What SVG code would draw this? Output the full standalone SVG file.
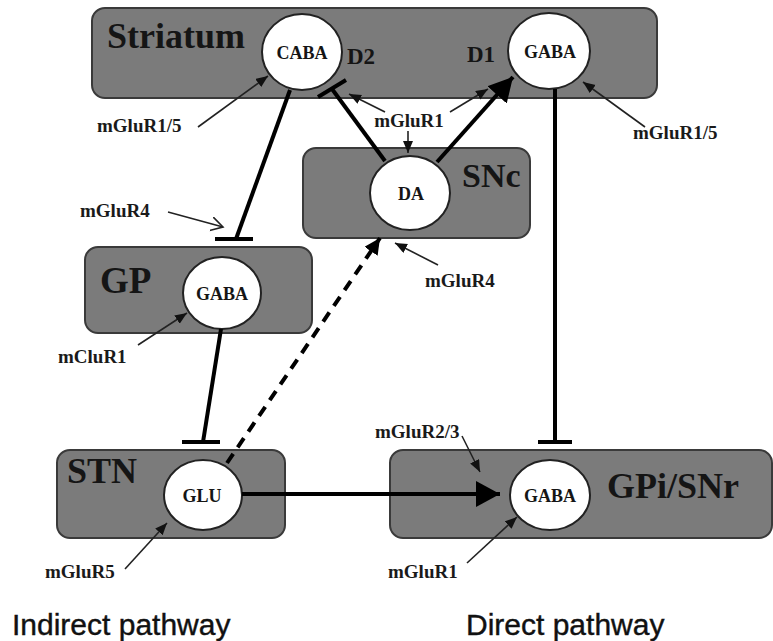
<svg xmlns="http://www.w3.org/2000/svg" width="773" height="641" viewBox="0 0 773 641">
<style>
.box{fill:#7b7b7b;stroke:#3a3a3a;stroke-width:2}
.cell{fill:#fff;stroke:#222;stroke-width:2}
.big{font-family:"Liberation Serif",serif;font-weight:bold;fill:#151515}
.nt{font-family:"Liberation Serif",serif;font-weight:bold;font-size:18px;fill:#151515;text-anchor:middle}
.lab{font-family:"Liberation Serif",serif;font-weight:bold;font-size:19px;fill:#1a1a1a}
.path{font-family:"Liberation Sans",Arial,sans-serif;font-size:30px;fill:#111;stroke:#111;stroke-width:0.4}
.main{stroke:#000;stroke-width:4;fill:none}
.thin{stroke:#222;stroke-width:1.6;fill:none}
</style>
<defs>
<marker id="sh" markerUnits="userSpaceOnUse" markerWidth="14" markerHeight="12" refX="12" refY="5" orient="auto">
<path d="M0,0 L12,5 L0,10 Z" fill="#111"/>
</marker>
<marker id="op" markerUnits="userSpaceOnUse" markerWidth="16" markerHeight="16" refX="12" refY="7" orient="auto">
<path d="M0,0 L12,7 L0,14" fill="none" stroke="#222" stroke-width="1.6"/>
</marker>
<marker id="bh" markerUnits="userSpaceOnUse" markerWidth="26" markerHeight="28" refX="24" refY="13" orient="auto">
<path d="M0,0 L24,13 L0,26 Z" fill="#000"/>
</marker>
<marker id="mh" markerUnits="userSpaceOnUse" markerWidth="20" markerHeight="20" refX="16" refY="8" orient="auto">
<path d="M0,0 L16,8 L0,16 Z" fill="#000"/>
</marker>
</defs>

<g id="striatum">
<rect class="box" x="92" y="8" width="565" height="90" rx="13"/>
<text class="big" x="107" y="48" font-size="36">Striatum</text>
<text class="big" x="347" y="64" font-size="23">D2</text>
<text class="big" x="467" y="62" font-size="23">D1</text>
</g>
<g id="striatum-d2">
<ellipse class="cell" cx="302" cy="52" rx="40" ry="38"/>
<text class="nt" x="302" y="59">CABA</text>
</g>
<g id="striatum-d1">
<ellipse class="cell" cx="549" cy="51" rx="41" ry="38"/>
<text class="nt" x="550" y="58">GABA</text>
</g>

<g id="snc">
<rect class="box" x="303" y="148" width="227" height="90" rx="13"/>
<text class="big" x="462" y="187" font-size="34">SNc</text>
<ellipse class="cell" cx="410" cy="193" rx="40" ry="37"/>
<text class="nt" x="411" y="200">DA</text>
</g>

<g id="gp">
<rect class="box" x="85" y="247" width="227" height="86" rx="13"/>
<text class="big" x="100" y="293" font-size="37">GP</text>
<ellipse class="cell" cx="222" cy="293" rx="39" ry="36"/>
<text class="nt" x="222" y="300">GABA</text>
</g>

<g id="stn">
<rect class="box" x="57" y="450" width="228" height="88" rx="13"/>
<text class="big" x="67" y="483" font-size="36">STN</text>
<ellipse class="cell" cx="203" cy="495" rx="39" ry="35"/>
<text class="nt" x="202" y="502">GLU</text>
</g>

<g id="gpi-snr">
<rect class="box" x="390" y="450" width="382" height="88" rx="13"/>
<text class="big" x="607" y="498" font-size="36">GPi/SNr</text>
<ellipse class="cell" cx="550" cy="495" rx="40" ry="35"/>
<text class="nt" x="550" y="502">GABA</text>
</g>

<g id="connectors">
<line class="main" x1="290" y1="90" x2="236" y2="239"/>
<line class="main" x1="215" y1="239" x2="253" y2="239"/>
<line class="main" x1="385" y1="161" x2="332" y2="89"/>
<line class="main" x1="318" y1="97" x2="346" y2="80"/>
<line class="main" x1="437" y1="162" x2="513" y2="77" marker-end="url(#bh)"/>
<line class="main" stroke-width="3" x1="555" y1="89" x2="555" y2="442"/>
<line class="main" x1="538" y1="442" x2="572" y2="442"/>
<line class="main" x1="221" y1="329" x2="203" y2="442"/>
<line class="main" x1="182" y1="442" x2="220" y2="442"/>
<line class="main" stroke-width="3.5" stroke-dasharray="11 8" x1="227" y1="463" x2="380" y2="238" marker-end="url(#mh)"/>
<line class="main" stroke-width="3.5" x1="242" y1="494" x2="500" y2="494" marker-end="url(#bh)"/>

<line class="thin" x1="198" y1="127" x2="268" y2="76" marker-end="url(#sh)"/>
<line class="thin" x1="385" y1="112" x2="349" y2="94" marker-end="url(#sh)"/>
<line class="thin" x1="450" y1="112" x2="488" y2="89" marker-end="url(#sh)"/>
<line class="thin" x1="408" y1="131" x2="408" y2="153" marker-end="url(#sh)"/>
<line class="thin" x1="645" y1="127" x2="583" y2="82" marker-end="url(#sh)"/>
<line class="thin" x1="168" y1="212" x2="223" y2="227" marker-end="url(#op)"/>
<line class="thin" x1="438" y1="265" x2="395" y2="243" marker-end="url(#sh)"/>
<line class="thin" x1="138" y1="345" x2="187" y2="313" marker-end="url(#sh)"/>
<line class="thin" x1="125" y1="569" x2="167" y2="523" marker-end="url(#sh)"/>
<line class="thin" x1="462" y1="436" x2="480" y2="472" marker-end="url(#sh)"/>
<line class="thin" x1="467" y1="563" x2="517" y2="517" marker-end="url(#sh)"/>
</g>

<g id="labels">
<text class="lab" x="97" y="132">mGluR1/5</text>
<text class="lab" x="409" y="127" text-anchor="middle">mGluR1</text>
<text class="lab" x="633" y="139">mGluR1/5</text>
<text class="lab" x="80" y="217">mGluR4</text>
<text class="lab" x="425" y="287">mGluR4</text>
<text class="lab" x="58" y="363">mCluR1</text>
<text class="lab" x="45" y="578">mGluR5</text>
<text class="lab" x="375" y="438">mGluR2/3</text>
<text class="lab" x="388" y="578">mGluR1</text>
<text class="path" x="12" y="635">Indirect pathway</text>
<text class="path" x="466" y="635">Direct pathway</text>
</g>
</svg>
